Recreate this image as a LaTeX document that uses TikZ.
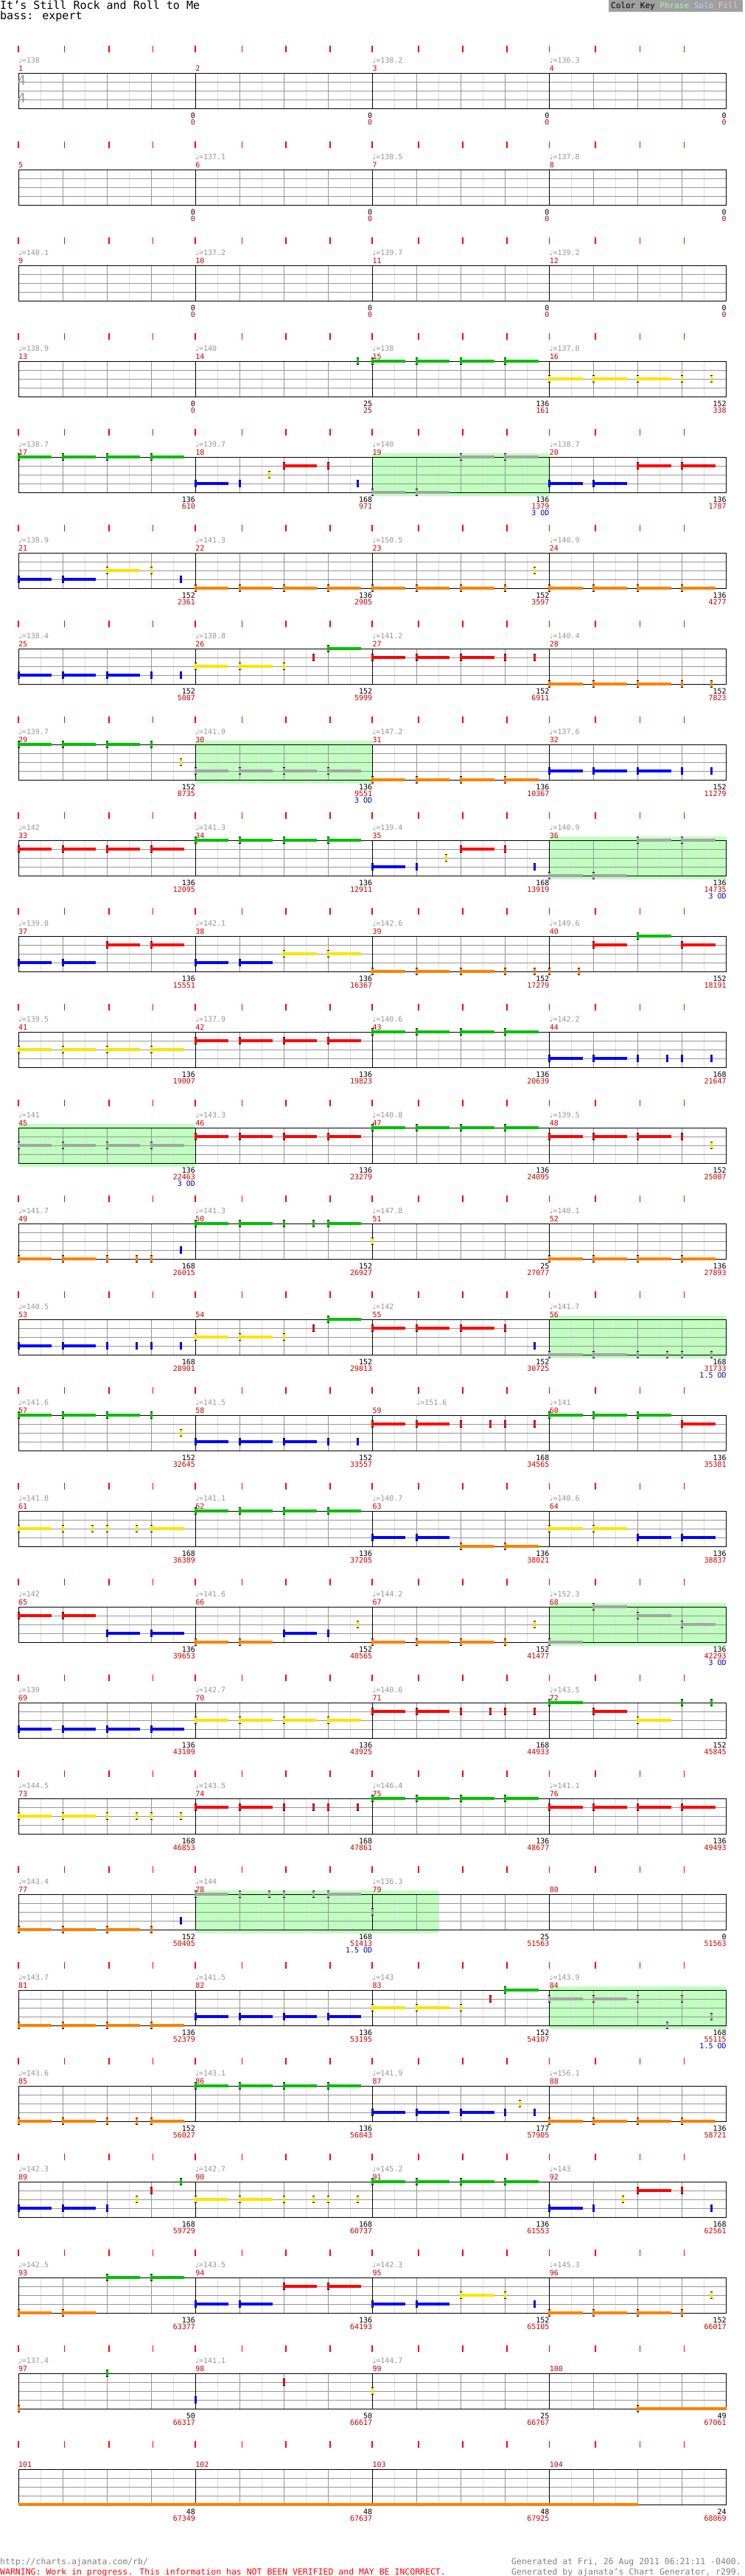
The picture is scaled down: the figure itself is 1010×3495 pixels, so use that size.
\documentclass[tikz,border=0pt]{standalone}
\usepackage{fontspec}
\setmainfont{DejaVu Sans Mono}
\newfontfamily\djv{DejaVu Sans}
\definecolor{lane0}{RGB}{0,190,0}
\definecolor{lane1}{RGB}{255,0,0}
\definecolor{lane2}{RGB}{250,228,0}
\definecolor{lane3}{RGB}{0,0,255}
\definecolor{lane4}{RGB}{255,128,0}
\definecolor{odgray}{RGB}{165,165,165}
\definecolor{odgreen}{RGB}{192,255,192}
\definecolor{tempogray}{RGB}{150,150,150}
\definecolor{mred}{RGB}{204,0,0}
\definecolor{odblue}{RGB}{0,0,210}
\definecolor{halfgray}{RGB}{222,222,222}
\definecolor{beatgray}{RGB}{150,150,150}
\definecolor{keygray}{RGB}{160,160,160}
\definecolor{footgray}{RGB}{128,128,128}
\tikzset{
  lbl/.style={inner sep=0pt, font=\fontsize{10}{10}\selectfont},
  tempo/.style={lbl, text=tempogray, anchor=base west},
  mnum/.style={lbl, text=mred, anchor=base west},
  sblack/.style={lbl, text=black, anchor=base east},
  sred/.style={lbl, text=mred, anchor=base east},
  odtxt/.style={lbl, text=odblue, anchor=base east},
  halfline/.style={draw=halfgray, line width=1pt},
  beatline/.style={draw=beatgray, line width=1pt},
  barline/.style={draw=black, line width=1pt},
  rtick/.style={draw=red, line width=1.6pt},
  foot/.style={inner sep=0pt, font=\fontsize{11.5}{11.5}\selectfont},
}
\newcommand\nt[4]{%
  \pgfmathsetmacro\nx{25+60.05*(#1)}%
  \pgfmathsetmacro\ny{100+12*(#2)}%
  \pgfmathsetmacro\nl{60.05*(#3)}%
  \ifdim\nl pt>0pt \fill[#4] (\nx,\ny-1.75) rectangle ++(\nl,3.5);\fi
  \fill[#4] (\nx-1.5,\ny-5) rectangle ++(3,10);
  \fill[black] (\nx-1.5,\ny-5) rectangle ++(3,1.2);
  \fill[black] (\nx-1.5,\ny+3.8) rectangle ++(3,1.2);
}
\newcommand\Sn[2]{\nt{#1}{#2}{0.75}{lane#2}}
\newcommand\Tn[2]{\nt{#1}{#2}{0}{lane#2}}
\newcommand\Sg[2]{\nt{#1}{#2}{0.75}{odgray}}
\newcommand\Tg[2]{\nt{#1}{#2}{0}{odgray}}
\newcommand\Ln[3]{\nt{#1}{#2}{#3}{lane#2}}
\newcommand\odbox[2]{\fill[odgreen] ({25+60.05*#1},95) rectangle ({25+60.05*#2},153);}
\newcommand\staff{%
  \foreach \k in {1,3,...,31} \draw[halfline] ({25+30.025*\k},100) -- ++(0,48);
  \foreach \k in {1,2,3,5,6,7,9,10,11,13,14,15} \draw[beatline] ({25+60.05*\k},100) -- ++(0,48);
  \foreach \yy in {112,124,136} \draw[beatline] (25,\yy) -- (985.8,\yy);
  \draw[barline] (25,100) rectangle (985.8,148);
  \foreach \k in {4,8,12} \draw[barline] ({25+60.05*\k},100) -- ++(0,48);
  \foreach \x in {25,87.6,148.2,207.5,264.8,328.6,387.9,447.8,505.2,567.7,628.2,688.1,745.5,808,868.6,928.5}
    \draw[rtick] (\x,62) -- (\x,71);
}
\newcommand\tmpo[3]{\ifx\relax#2\relax\else\node[tempo] (tp\rowid-#3) at (#1,86) {{\djv ♩}=#2};\fi}
\newcommand\tempos[4]{\tmpo{25}{#1}{1}\tmpo{265.2}{#2}{2}\tmpo{505.4}{#3}{3}\tmpo{745.6}{#4}{4}}
\newcommand\mnums[1]{%
  \node[mnum] (mn\rowid-1) at (25,97) {#1};
  \node[mnum] (mn\rowid-2) at (265.2,97) {\the\numexpr#1+1\relax};
  \node[mnum] (mn\rowid-3) at (505.4,97) {\the\numexpr#1+2\relax};
  \node[mnum] (mn\rowid-4) at (745.6,97) {\the\numexpr#1+3\relax};}
\newcommand\scores[8]{%
  \node[sblack] (sb\rowid-1) at (265.2,161) {#1}; \node[sred] (sr\rowid-1) at (265.2,170) {#2};
  \node[sblack] (sb\rowid-2) at (505.4,161) {#3}; \node[sred] (sr\rowid-2) at (505.4,170) {#4};
  \node[sblack] (sb\rowid-3) at (745.6,161) {#5}; \node[sred] (sr\rowid-3) at (745.6,170) {#6};
  \node[sblack] (sb\rowid-4) at (985.8,161) {#7}; \node[sred] (sr\rowid-4) at (985.8,170) {#8};}
\newcommand\odlabel[2]{\node[odtxt] (od\rowid) at (#1,179) {#2};}
\newcommand\chartrow[2]{\begin{scope}[shift={(0,{130*(#1-1)})}]\def\rowid{#1}#2\end{scope}}
\begin{document}
\begin{tikzpicture}[x=1pt,y=-1pt]
\useasboundingbox (0,0) rectangle (1010,3495);
\fill[white] (0,0) rectangle (1010,3495);
% header
\node[anchor=base west, inner sep=0pt, font=\fontsize{15}{15}\selectfont] (title) at (0,13) {It’s Still Rock and Roll to Me};
\node[anchor=base west, inner sep=0pt, font=\fontsize{15}{15}\selectfont] (sub) at (0,27) {bass: expert};
\fill[keygray] (826,0) rectangle (1008,16);
\node[anchor=base west, inner sep=0pt, font=\fontsize{11}{11}\selectfont] (key) at (829,11.5) {Color Key \textcolor[RGB]{160,255,160}{Phrase} \textcolor[RGB]{200,200,255}{Solo} \textcolor[RGB]{255,190,190}{Fill}};
% rows
\chartrow{1}{\staff \tempos{138}{}{138.2}{136.3}\mnums{1}\scores{0}{0}{0}{0}{0}{0}{0}{0}
  \node[anchor=base west, inner sep=0pt, text=tempogray, font=\fontsize{18}{18}\selectfont] (ts1) at (24,116) {4};
  \node[anchor=base west, inner sep=0pt, text=tempogray, font=\fontsize{18}{18}\selectfont] (ts2) at (24,140) {4};}
\chartrow{2}{\staff \tempos{}{137.1}{138.5}{137.8}\mnums{5}\scores{0}{0}{0}{0}{0}{0}{0}{0}}
\chartrow{3}{\staff \tempos{140.1}{137.2}{139.7}{139.2}\mnums{9}\scores{0}{0}{0}{0}{0}{0}{0}{0}}
\chartrow{4}{\staff \tempos{138.9}{140}{138}{137.8}\mnums{13}\scores{0}{0}{25}{25}{136}{161}{152}{338}
  \Tn{7.67}{0}\Sn{8}{0}\Sn{9}{0}\Sn{10}{0}\Sn{11}{0}\Sn{12}{2}\Sn{13}{2}\Sn{14}{2}\Tn{15}{2}\Tn{15.67}{2}}
\chartrow{5}{\odbox{8}{12}\staff \tempos{138.7}{139.7}{140}{138.7}\mnums{17}\scores{136}{610}{168}{971}{136}{1379}{136}{1787}\odlabel{745.6}{3 OD}
  \Sn{0}{0}\Sn{1}{0}\Sn{2}{0}\Sn{3}{0}\Sn{4}{3}\Tn{5}{3}\Tn{5.67}{2}\Sn{6}{1}\Tn{7}{1}\Tn{7.67}{3}
  \Sg{8}{4}\Sg{9}{4}\Sg{10}{0}\Sg{11}{0}\Sn{12}{3}\Sn{13}{3}\Sn{14}{1}\Sn{15}{1}}
\chartrow{6}{\staff \tempos{138.9}{141.3}{150.5}{140.9}\mnums{21}\scores{152}{2361}{136}{2905}{152}{3597}{136}{4277}
  \Sn{0}{3}\Sn{1}{3}\Sn{2}{2}\Tn{3}{2}\Tn{3.67}{3}\Sn{4}{4}\Sn{5}{4}\Sn{6}{4}\Sn{7}{4}\Sn{8}{4}\Sn{9}{4}\Sn{10}{4}\Tn{11}{4}\Tn{11.67}{2}
  \Sn{12}{4}\Sn{13}{4}\Sn{14}{4}\Sn{15}{4}}
\chartrow{7}{\staff \tempos{138.4}{138.8}{141.2}{140.4}\mnums{25}\scores{152}{5087}{152}{5999}{152}{6911}{152}{7823}
  \Sn{0}{3}\Sn{1}{3}\Sn{2}{3}\Tn{3}{3}\Tn{3.67}{3}\Sn{4}{2}\Sn{5}{2}\Tn{6}{2}\Tn{6.67}{1}\Sn{7}{0}
  \Sn{8}{1}\Sn{9}{1}\Sn{10}{1}\Tn{11}{1}\Tn{11.67}{1}\Sn{12}{4}\Sn{13}{4}\Sn{14}{4}\Tn{15}{4}\Tn{15.67}{4}}
\chartrow{8}{\odbox{4}{8}\staff \tempos{139.7}{141.9}{147.2}{137.6}\mnums{29}\scores{152}{8735}{136}{9551}{136}{10367}{152}{11279}\odlabel{505.4}{3 OD}
  \Sn{0}{0}\Sn{1}{0}\Sn{2}{0}\Tn{3}{0}\Tn{3.67}{2}\Sg{4}{3}\Sg{5}{3}\Sg{6}{3}\Sg{7}{3}
  \Sn{8}{4}\Sn{9}{4}\Sn{10}{4}\Sn{11}{4}\Sn{12}{3}\Sn{13}{3}\Sn{14}{3}\Tn{15}{3}\Tn{15.67}{3}}
\chartrow{9}{\odbox{12}{16}\staff \tempos{142}{141.3}{139.4}{140.9}\mnums{33}\scores{136}{12095}{136}{12911}{168}{13919}{136}{14735}\odlabel{985.8}{3 OD}
  \Sn{0}{1}\Sn{1}{1}\Sn{2}{1}\Sn{3}{1}\Sn{4}{0}\Sn{5}{0}\Sn{6}{0}\Sn{7}{0}\Sn{8}{3}\Tn{9}{3}\Tn{9.67}{2}\Sn{10}{1}\Tn{11}{1}\Tn{11.67}{3}
  \Sg{12}{4}\Sg{13}{4}\Sg{14}{0}\Sg{15}{0}}
\chartrow{10}{\staff \tempos{139.8}{142.1}{142.6}{149.6}\mnums{37}\scores{136}{15551}{136}{16367}{152}{17279}{152}{18191}
  \Sn{0}{3}\Sn{1}{3}\Sn{2}{1}\Sn{3}{1}\Sn{4}{3}\Sn{5}{3}\Sn{6}{2}\Sn{7}{2}\Sn{8}{4}\Sn{9}{4}\Sn{10}{4}\Tn{11}{4}\Tn{11.67}{4}\Tn{12}{4}\Tn{12.67}{4}
  \Sn{13}{1}\Sn{14}{0}\Sn{15}{1}}
\chartrow{11}{\staff \tempos{139.5}{137.9}{140.6}{142.2}\mnums{41}\scores{136}{19007}{136}{19823}{136}{20639}{168}{21647}
  \Sn{0}{2}\Sn{1}{2}\Sn{2}{2}\Sn{3}{2}\Sn{4}{1}\Sn{5}{1}\Sn{6}{1}\Sn{7}{1}\Sn{8}{0}\Sn{9}{0}\Sn{10}{0}\Sn{11}{0}
  \Sn{12}{3}\Sn{13}{3}\Tn{14}{3}\Tn{14.67}{3}\Tn{15}{3}\Tn{15.67}{3}}
\chartrow{12}{\odbox{0}{4}\staff \tempos{141}{143.3}{140.8}{139.5}\mnums{45}\scores{136}{22463}{136}{23279}{136}{24095}{152}{25007}\odlabel{265.2}{3 OD}
  \Sg{0}{2}\Sg{1}{2}\Sg{2}{2}\Sg{3}{2}\Sn{4}{1}\Sn{5}{1}\Sn{6}{1}\Sn{7}{1}\Sn{8}{0}\Sn{9}{0}\Sn{10}{0}\Sn{11}{0}
  \Sn{12}{1}\Sn{13}{1}\Sn{14}{1}\Tn{15}{1}\Tn{15.67}{2}}
\chartrow{13}{\staff \tempos{141.7}{141.3}{147.8}{140.1}\mnums{49}\scores{168}{26015}{152}{26927}{25}{27077}{136}{27893}
  \Sn{0}{4}\Sn{1}{4}\Tn{2}{4}\Tn{2.67}{4}\Tn{3}{4}\Tn{3.67}{3}\Sn{4}{0}\Sn{5}{0}\Tn{6}{0}\Tn{6.67}{0}\Sn{7}{0}\Tn{8}{2}
  \Sn{12}{4}\Sn{13}{4}\Sn{14}{4}\Sn{15}{4}}
\chartrow{14}{\odbox{12}{16}\staff \tempos{140.5}{}{142}{141.7}\mnums{53}\scores{168}{28901}{152}{29813}{152}{30725}{168}{31733}\odlabel{985.8}{1.5 OD}
  \Sn{0}{3}\Sn{1}{3}\Tn{2}{3}\Tn{2.67}{3}\Tn{3}{3}\Tn{3.67}{3}\Sn{4}{2}\Sn{5}{2}\Tn{6}{2}\Tn{6.67}{1}\Sn{7}{0}
  \Sn{8}{1}\Sn{9}{1}\Sn{10}{1}\Tn{11}{1}\Tn{11.67}{3}\Sg{12}{4}\Sg{13}{4}\Tg{14}{4}\Tg{14.67}{4}\Tg{15}{4}\Tg{15.67}{4}}
\chartrow{15}{\staff \tempos{141.6}{141.5}{}{141}\mnums{57}\scores{152}{32645}{152}{33557}{168}{34565}{136}{35381}
  \node[tempo] (tp15-x) at ({25+60.05*9},86) {{\djv ♩}=151.6};
  \Sn{0}{0}\Sn{1}{0}\Sn{2}{0}\Tn{3}{0}\Tn{3.67}{2}\Sn{4}{3}\Sn{5}{3}\Sn{6}{3}\Tn{7}{3}\Tn{7.67}{3}
  \Sn{8}{1}\Sn{9}{1}\Tn{10}{1}\Tn{10.67}{1}\Tn{11}{1}\Tn{11.67}{1}\Sn{12}{0}\Sn{13}{0}\Sn{14}{0}\Sn{15}{1}}
\chartrow{16}{\staff \tempos{141.8}{141.1}{140.7}{140.6}\mnums{61}\scores{168}{36389}{136}{37205}{136}{38021}{136}{38837}
  \Sn{0}{2}\Tn{1}{2}\Tn{1.67}{2}\Tn{2}{2}\Tn{2.67}{2}\Sn{3}{2}\Sn{4}{0}\Sn{5}{0}\Sn{6}{0}\Sn{7}{0}
  \Sn{8}{3}\Sn{9}{3}\Sn{10}{4}\Sn{11}{4}\Sn{12}{2}\Sn{13}{2}\Sn{14}{3}\Sn{15}{3}}
\chartrow{17}{\odbox{12}{16}\staff \tempos{142}{141.6}{144.2}{152.3}\mnums{65}\scores{136}{39653}{152}{40565}{152}{41477}{136}{42293}\odlabel{985.8}{3 OD}
  \Sn{0}{1}\Sn{1}{1}\Sn{2}{3}\Sn{3}{3}\Sn{4}{4}\Sn{5}{4}\Sn{6}{3}\Tn{7}{3}\Tn{7.67}{2}
  \Sn{8}{4}\Sn{9}{4}\Sn{10}{4}\Tn{11}{4}\Tn{11.67}{2}\Sg{12}{4}\Sg{13}{0}\Sg{14}{1}\Sg{15}{2}}
\chartrow{18}{\staff \tempos{139}{142.7}{140.6}{143.5}\mnums{69}\scores{136}{43109}{136}{43925}{168}{44933}{152}{45845}
  \Sn{0}{3}\Sn{1}{3}\Sn{2}{3}\Sn{3}{3}\Sn{4}{2}\Sn{5}{2}\Sn{6}{2}\Sn{7}{2}\Sn{8}{1}\Sn{9}{1}\Tn{10}{1}\Tn{10.67}{1}\Tn{11}{1}\Tn{11.67}{1}
  \Sn{12}{0}\Sn{13}{1}\Sn{14}{2}\Tn{15}{0}\Tn{15.67}{0}}
\chartrow{19}{\staff \tempos{144.5}{143.5}{146.4}{141.1}\mnums{73}\scores{168}{46853}{168}{47861}{136}{48677}{136}{49493}
  \Sn{0}{2}\Sn{1}{2}\Tn{2}{2}\Tn{2.67}{2}\Tn{3}{2}\Tn{3.67}{2}\Sn{4}{1}\Sn{5}{1}\Tn{6}{1}\Tn{6.67}{1}\Tn{7}{1}\Tn{7.67}{1}
  \Sn{8}{0}\Sn{9}{0}\Sn{10}{0}\Sn{11}{0}\Sn{12}{1}\Sn{13}{1}\Sn{14}{1}\Sn{15}{1}}
\chartrow{20}{\odbox{4}{9.5}\staff \tempos{143.4}{144}{136.3}{}\mnums{77}\scores{152}{50405}{168}{51413}{25}{51563}{0}{51563}\odlabel{505.4}{1.5 OD}
  \Sn{0}{4}\Sn{1}{4}\Sn{2}{4}\Tn{3}{4}\Tn{3.67}{3}\Sg{4}{0}\Tg{5}{0}\Tg{5.67}{0}\Tg{6}{0}\Tg{6.67}{0}\Sg{7}{0}\Tg{8}{2}}
\chartrow{21}{\odbox{12}{16}\staff \tempos{143.7}{141.5}{143}{143.9}\mnums{81}\scores{136}{52379}{136}{53195}{152}{54107}{168}{55115}\odlabel{985.8}{1.5 OD}
  \Sn{0}{4}\Sn{1}{4}\Sn{2}{4}\Sn{3}{4}\Sn{4}{3}\Sn{5}{3}\Sn{6}{3}\Sn{7}{3}\Sn{8}{2}\Sn{9}{2}\Tn{10}{2}\Tn{10.67}{1}\Sn{11}{0}
  \Sg{12}{1}\Sg{13}{1}\Tg{14}{1}\Tg{14.67}{4}\Tg{15}{1}\Tg{15.67}{3}}
\chartrow{22}{\staff \tempos{143.6}{143.1}{141.9}{156.1}\mnums{85}\scores{152}{56027}{136}{56843}{177}{57905}{136}{58721}
  \Sn{0}{4}\Sn{1}{4}\Tn{2}{4}\Tn{2.67}{4}\Sn{3}{4}\Sn{4}{0}\Sn{5}{0}\Sn{6}{0}\Sn{7}{0}\Sn{8}{3}\Sn{9}{3}\Sn{10}{3}\Tn{11}{3}\Tn{11.33}{2}\Tn{11.67}{3}
  \Sn{12}{4}\Sn{13}{4}\Sn{14}{4}\Sn{15}{4}}
\chartrow{23}{\staff \tempos{142.3}{142.7}{145.2}{143}\mnums{89}\scores{168}{59729}{168}{60737}{136}{61553}{168}{62561}
  \Sn{0}{3}\Sn{1}{3}\Tn{2}{3}\Tn{2.67}{2}\Tn{3}{1}\Tn{3.67}{0}\Sn{4}{2}\Sn{5}{2}\Tn{6}{2}\Tn{6.67}{2}\Tn{7}{2}\Tn{7.67}{2}
  \Sn{8}{0}\Sn{9}{0}\Sn{10}{0}\Sn{11}{0}\Sn{12}{3}\Tn{13}{3}\Tn{13.67}{2}\Sn{14}{1}\Tn{15}{1}\Tn{15.67}{3}}
\chartrow{24}{\staff \tempos{142.5}{143.5}{142.3}{145.3}\mnums{93}\scores{136}{63377}{136}{64193}{152}{65105}{152}{66017}
  \Sn{0}{4}\Sn{1}{4}\Sn{2}{0}\Sn{3}{0}\Sn{4}{3}\Sn{5}{3}\Sn{6}{1}\Sn{7}{1}\Sn{8}{3}\Sn{9}{3}\Sn{10}{2}\Tn{11}{2}\Tn{11.67}{3}
  \Sn{12}{4}\Sn{13}{4}\Sn{14}{4}\Tn{15}{4}\Tn{15.67}{2}}
\chartrow{25}{\staff \tempos{137.4}{141.1}{144.7}{}\mnums{97}\scores{50}{66317}{50}{66617}{25}{66767}{49}{67061}
  \Tn{0}{4}\Tn{2}{0}\Tn{4}{3}\Tn{6}{1}\Tn{8}{2}\Ln{14}{4}{2}}
\chartrow{26}{\staff \mnums{101}\scores{48}{67349}{48}{67637}{48}{67925}{24}{68069}
  \fill[lane4] (25,146.25) rectangle ({25+60.05*14},149.75);}
% footer
\node[foot, anchor=base west, text=footgray] (url) at (0,3479) {http://charts.ajanata.com/rb/};
\node[foot, anchor=base west, text=red] (warn) at (0,3493) {WARNING: Work in progress. This information has NOT BEEN VERIFIED and MAY BE INCORRECT.};
\node[foot, anchor=base east, text=footgray] (gen1) at (1006,3479) {Generated at Fri, 26 Aug 2011 06:21:11 -0400.};
\node[foot, anchor=base east, text=footgray] (gen2) at (1006,3493) {Generated by ajanata’s Chart Generator, r299.};
\end{tikzpicture}
\end{document}
